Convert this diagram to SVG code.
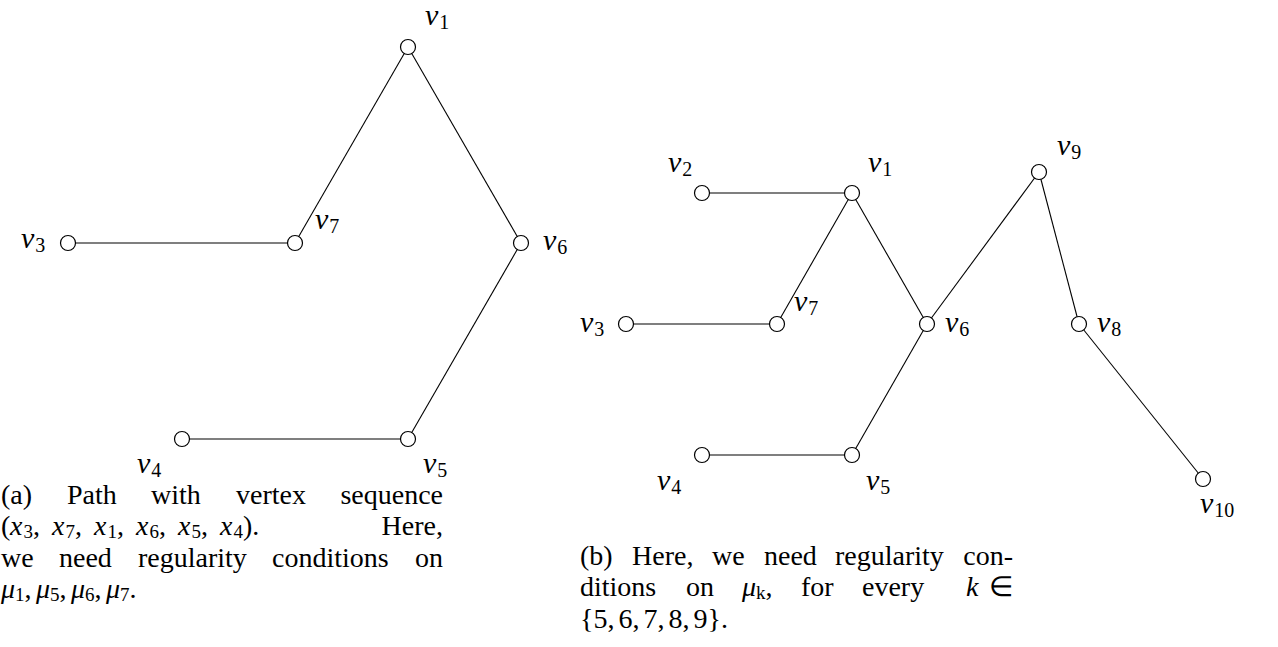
<svg xmlns="http://www.w3.org/2000/svg" width="1278" height="647" viewBox="0 0 1278 647">
<style>
.lbl{font-family:"Liberation Serif",serif;font-style:italic;font-size:30px;fill:#000}
.sub{font-style:normal;font-size:20px}
.cap{font-family:"Liberation Serif",serif;font-size:28px;fill:#000}
.m{font-style:italic}
.s{font-size:19px;font-style:normal}
.edge{stroke:#000;stroke-width:1.1;fill:none}
.node{fill:#fff;stroke:#000;stroke-width:1.2}
</style>
<rect width="1278" height="647" fill="#fff"/>
<g id="connectors">
<line class="edge" x1="68" y1="243" x2="295" y2="243"/>
<line class="edge" x1="295" y1="243" x2="408" y2="47"/>
<line class="edge" x1="408" y1="47" x2="521" y2="243"/>
<line class="edge" x1="521" y1="243" x2="408" y2="439"/>
<line class="edge" x1="408" y1="439" x2="182" y2="439"/>
<line class="edge" x1="702" y1="193" x2="852" y2="193"/>
<line class="edge" x1="852" y1="193" x2="777" y2="324"/>
<line class="edge" x1="777" y1="324" x2="626" y2="324"/>
<line class="edge" x1="852" y1="193" x2="927" y2="324"/>
<line class="edge" x1="927" y1="324" x2="1039" y2="172"/>
<line class="edge" x1="1039" y1="172" x2="1079" y2="324"/>
<line class="edge" x1="1079" y1="324" x2="1203" y2="479"/>
<line class="edge" x1="927" y1="324" x2="852" y2="455"/>
<line class="edge" x1="852" y1="455" x2="702" y2="455"/>
</g>
<g id="a-v1"><circle class="node" cx="408" cy="47" r="7.5"/><text class="lbl" x="425" y="25">v<tspan class="sub" dx="1" dy="4">1</tspan></text></g>
<g id="a-v7"><circle class="node" cx="295" cy="243" r="7.5"/><text class="lbl" x="315" y="229">v<tspan class="sub" dx="1" dy="4">7</tspan></text></g>
<g id="a-v3"><circle class="node" cx="68" cy="243" r="7.5"/><text class="lbl" x="21" y="248">v<tspan class="sub" dx="1" dy="4">3</tspan></text></g>
<g id="a-v6"><circle class="node" cx="521" cy="243" r="7.5"/><text class="lbl" x="543" y="250">v<tspan class="sub" dx="1" dy="4">6</tspan></text></g>
<g id="a-v5"><circle class="node" cx="408" cy="439" r="7.5"/><text class="lbl" x="423" y="473">v<tspan class="sub" dx="1" dy="4">5</tspan></text></g>
<g id="a-v4"><circle class="node" cx="182" cy="439" r="7.5"/><text class="lbl" x="137" y="473">v<tspan class="sub" dx="1" dy="4">4</tspan></text></g>
<g id="b-v2"><circle class="node" cx="702" cy="193" r="7.5"/><text class="lbl" x="668" y="172">v<tspan class="sub" dx="1" dy="4">2</tspan></text></g>
<g id="b-v1"><circle class="node" cx="852" cy="193" r="7.5"/><text class="lbl" x="868" y="172">v<tspan class="sub" dx="1" dy="4">1</tspan></text></g>
<g id="b-v9"><circle class="node" cx="1039" cy="172" r="7.5"/><text class="lbl" x="1057" y="155">v<tspan class="sub" dx="1" dy="4">9</tspan></text></g>
<g id="b-v7"><circle class="node" cx="777" cy="324" r="7.5"/><text class="lbl" x="794" y="311">v<tspan class="sub" dx="1" dy="4">7</tspan></text></g>
<g id="b-v3"><circle class="node" cx="626" cy="324" r="7.5"/><text class="lbl" x="580" y="332">v<tspan class="sub" dx="1" dy="4">3</tspan></text></g>
<g id="b-v6"><circle class="node" cx="927" cy="324" r="7.5"/><text class="lbl" x="945" y="332">v<tspan class="sub" dx="1" dy="4">6</tspan></text></g>
<g id="b-v8"><circle class="node" cx="1079" cy="324" r="7.5"/><text class="lbl" x="1097" y="332">v<tspan class="sub" dx="1" dy="4">8</tspan></text></g>
<g id="b-v4"><circle class="node" cx="702" cy="455" r="7.5"/><text class="lbl" x="657" y="490">v<tspan class="sub" dx="1" dy="4">4</tspan></text></g>
<g id="b-v5"><circle class="node" cx="852" cy="455" r="7.5"/><text class="lbl" x="866" y="490">v<tspan class="sub" dx="1" dy="4">5</tspan></text></g>
<g id="b-v10"><circle class="node" cx="1203" cy="479" r="7.5"/><text class="lbl" x="1200" y="513">v<tspan class="sub" dx="1" dy="4">10</tspan></text></g>
<g id="caption-a" class="cap">
<text x="1" y="504">(a)</text><text x="67" y="504">Path</text><text x="151" y="504">with</text><text x="236" y="504">vertex</text><text x="443" y="504" text-anchor="end">sequence</text>
<text x="1" y="535">(</text>
<text x="10" y="535"><tspan class="m">x</tspan><tspan class="s" dx="1" dy="2.5">3</tspan><tspan dy="-2.5">,</tspan></text>
<text x="52" y="535"><tspan class="m">x</tspan><tspan class="s" dx="1" dy="2.5">7</tspan><tspan dy="-2.5">,</tspan></text>
<text x="94" y="535"><tspan class="m">x</tspan><tspan class="s" dx="1" dy="2.5">1</tspan><tspan dy="-2.5">,</tspan></text>
<text x="136" y="535"><tspan class="m">x</tspan><tspan class="s" dx="1" dy="2.5">6</tspan><tspan dy="-2.5">,</tspan></text>
<text x="178" y="535"><tspan class="m">x</tspan><tspan class="s" dx="1" dy="2.5">5</tspan><tspan dy="-2.5">,</tspan></text>
<text x="220" y="535"><tspan class="m">x</tspan><tspan class="s" dx="1" dy="2.5">4</tspan><tspan dy="-2.5">).</tspan></text>
<text x="443" y="535" text-anchor="end">Here,</text>
<text x="1" y="567">we</text><text x="59" y="567">need</text><text x="138" y="567">regularity</text><text x="272" y="567">conditions</text><text x="443" y="567" text-anchor="end">on</text>
<text x="1" y="598"><tspan class="m">μ</tspan><tspan class="s" dy="2.5">1</tspan><tspan dy="-2.5">,</tspan></text>
<text x="36" y="598"><tspan class="m">μ</tspan><tspan class="s" dy="2.5">5</tspan><tspan dy="-2.5">,</tspan></text>
<text x="71" y="598"><tspan class="m">μ</tspan><tspan class="s" dy="2.5">6</tspan><tspan dy="-2.5">,</tspan></text>
<text x="106" y="598"><tspan class="m">μ</tspan><tspan class="s" dy="2.5">7</tspan><tspan dy="-2.5">.</tspan></text>
</g>
<g id="caption-b" class="cap">
<text x="580" y="565">(b)</text><text x="632" y="565">Here,</text><text x="712" y="565">we</text><text x="764" y="565">need</text><text x="835" y="565">regularity</text><text x="1013" y="565" text-anchor="end">con-</text>
<text x="580" y="596">ditions</text><text x="686" y="596">on</text>
<text x="742" y="596"><tspan class="m">μ</tspan><tspan class="s m" dy="2.5">k</tspan><tspan dy="-2.5">,</tspan></text>
<text x="801" y="596">for</text><text x="862" y="596">every</text><text x="966" y="596" class="m">k</text><text x="1013" y="596" text-anchor="end">∈</text>
<text x="580" y="628">{5,<tspan dx="4">6,</tspan><tspan dx="4">7,</tspan><tspan dx="4">8,</tspan><tspan dx="4">9}.</tspan></text>
</g>
</svg>
